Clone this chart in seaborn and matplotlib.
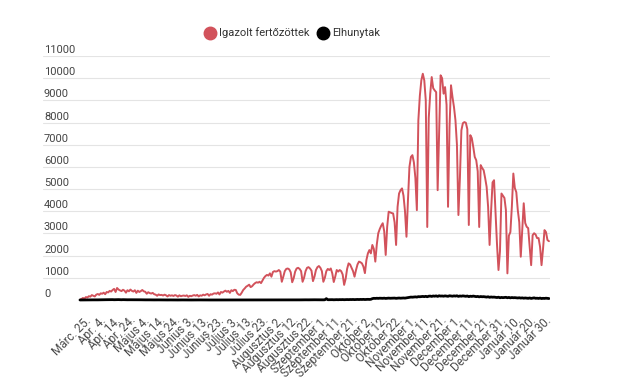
import pandas as pd
import seaborn as sns
import matplotlib.pyplot as plt
import matplotlib.transforms as mtransforms
from matplotlib.lines import Line2D

# daily values (rows of 7 days)
cases = [
    10, 40, 90, 60, 130, 110, 170,
    150, 220, 190, 160, 240, 270, 230,
    300, 280, 330, 260, 360, 340, 410,
    380, 450, 500, 360, 540, 470, 430,
    400, 460, 420, 330, 440, 390, 470,
    410, 380, 440, 320, 420, 360, 400,
    450, 390, 370, 280, 350, 310, 290,
    320, 260, 240, 190, 250, 220, 230,
    200, 240, 210, 160, 220, 190, 210,
    180, 220, 200, 150, 210, 170, 190,
    200, 180, 210, 140, 190, 170, 200,
    220, 190, 230, 160, 210, 190, 240,
    210, 250, 270, 190, 260, 240, 290,
    300, 280, 340, 250, 360, 330, 380,
    420, 370, 410, 320, 440, 400, 460,
    450, 300, 240, 230, 330, 450, 520,
    600, 640, 690, 580, 620, 700, 760,
    800, 780, 820, 760, 880, 1000, 1080,
    1130, 1100, 1200, 1050, 1260, 1300, 1280,
    1300, 1350, 1280, 820, 1050, 1300, 1400,
    1420, 1380, 1250, 800, 980, 1280, 1420,
    1450, 1400, 1300, 820, 1000, 1300, 1450,
    1480, 1420, 1320, 850, 1050, 1350, 1480,
    1530, 1450, 1300, 820, 1000, 1300, 1400,
    1350, 1420, 1200, 810, 1050, 1350, 1280,
    1350, 1300, 1150, 680, 950, 1400, 1650,
    1600, 1450, 1300, 1050, 1350, 1600, 1730,
    1700, 1650, 1500, 1210, 1800, 2100, 2250,
    2100, 2480, 2300, 1730, 2500, 3010, 3200,
    3350, 3460, 3100, 2030, 3300, 3980, 3950,
    3920, 3900, 3500, 2480, 4200, 4800, 4950,
    5030, 4700, 4000, 2850, 4500, 6000, 6450,
    6530, 6200, 5500, 4050, 8100, 9200, 9900,
    10200, 9900, 9000, 3290, 8200, 9300, 10050,
    9550, 9450, 9370, 4950, 7500, 10130, 10000,
    9300, 9600, 8800, 4200, 7800, 9680, 9150,
    8700, 8100, 7000, 3830, 5500, 7650, 7970,
    8020, 7990, 7700, 3380, 7430, 7300, 6900,
    6450, 6300, 5800, 3290, 6080, 5950, 5850,
    5500, 5100, 4200, 2480, 4000, 5300, 5400,
    3900, 2500, 1350, 2200, 4800, 4700, 4600,
    4050, 1200, 2900, 3060, 4200, 5700, 5050,
    4860, 4050, 3500, 1950, 3200, 4360, 3470,
    3300, 3240, 2400, 1570, 2920, 3010, 2950,
    2790, 2790, 2400, 1570, 2300, 3150, 3060,
    2700, 2650,
]

deaths = [
    0, 1, 1, 2, 1, 3, 2,
    4, 3, 5, 4, 6, 5, 7,
    8, 9, 11, 10, 12, 13, 14,
    12, 15, 11, 14, 13, 16, 12,
    10, 14, 11, 13, 9, 12, 10,
    8, 11, 9, 10, 7, 9, 8,
    6, 7, 5, 6, 4, 5, 3,
    4, 3, 5, 2, 4, 3, 2,
    3, 2, 4, 1, 3, 2, 1,
    2, 1, 3, 0, 2, 1, 2,
    1, 0, 2, 1, 1, 0, 1,
    0, 1, 1, 0, 2, 1, 0,
    1, 0, 1, 0, 0, 1, 0,
    0, 1, 0, 0, 1, 0, 0,
    0, 0, 1, 0, 0, 1, 0,
    0, 1, 0, 0, 1, 0, 1,
    0, 0, 1, 0, 1, 0, 0,
    1, 0, 0, 1, 0, 2, 1,
    0, 1, 2, 1, 0, 2, 1,
    2, 1, 3, 2, 1, 3, 2,
    4, 3, 2, 5, 3, 4, 2,
    5, 4, 6, 3, 5, 7, 4,
    6, 8, 5, 7, 9, 6, 8,
    7, 10, 8, 6, 9, 60, 11,
    12, 10, 14, 9, 13, 15, 11,
    16, 14, 18, 12, 17, 19, 15,
    20, 18, 22, 16, 21, 24, 19,
    25, 22, 27, 20, 26, 29, 24,
    30, 60, 75, 70, 78, 72, 80,
    76, 74, 82, 70, 79, 84, 77,
    80, 78, 85, 74, 82, 88, 80,
    86, 90, 84, 95, 110, 120, 130,
    125, 135, 140, 130, 150, 145, 155,
    160, 150, 165, 145, 170, 175, 160,
    180, 170, 185, 160, 190, 175, 180,
    170, 185, 175, 165, 190, 180, 170,
    185, 175, 190, 160, 180, 170, 185,
    175, 165, 180, 150, 170, 160, 175,
    165, 150, 160, 140, 155, 145, 150,
    140, 130, 145, 120, 135, 125, 130,
    120, 110, 125, 100, 115, 105, 110,
    120, 100, 115, 95, 110, 100, 105,
    95, 90, 100, 85, 95, 80, 90,
    85, 75, 90, 70, 80, 95, 75,
    80, 70, 85, 65, 75, 70, 80,
    70, 65,
]

tick_labels = ["Márc. 25.", "Apr. 4.", "Apr. 14.", "Apr. 24.", "Május 4.", "Május 14.",
               "Május 24.", "Június 3.", "Június 13.", "Június 23.", "Július 3.",
               "Július 13.", "Július 23.", "Augusztus 2.", "Augusztus 12.",
               "Augusztus 22.", "Szeptember 1.", "Szeptember 11.", "Szeptember 21.",
               "Október 2.", "Október 12.", "Október 22.", "November 1.",
               "November 11.", "November 21.", "December 1.", "December 11.",
               "December 21.", "December 31.", "Január 10.", "Január 20.", "Január 30."]
tick_pos = list(range(6, 317, 10))
y_ticks = list(range(0, 11001, 1000))

RED = "#d2525b"

df = pd.DataFrame({"day": range(len(cases)), "cases": cases, "deaths": deaths})

sns.set_style("white")
plt.rcParams["font.family"] = ["Roboto", "DejaVu Sans"]

W, H = 619, 385
fig = plt.figure(figsize=(W / 100, H / 100), dpi=100)
ax = fig.add_axes([43 / W, (H - 303.3) / H, (549.7 - 43) / W, (303.3 - 56) / H])

for v in y_ticks[1:]:
    ax.axhline(v, color="#e4e4e4", lw=0.8, zorder=0)

sns.lineplot(data=df, x="day", y="cases", color=RED, lw=1.4, ax=ax)
sns.lineplot(data=df, x="day", y="deaths", color="black", lw=2.0, ax=ax)

ax.set_xlim(-24.9, 316.5)
ax.set_ylim(-150, 11000)
for s in ax.spines.values():
    s.set_visible(False)
ax.set_xlabel("")
ax.set_ylabel("")
ax.set_yticks([])

ax.set_xticks(tick_pos)
ax.set_xticklabels(tick_labels, rotation=45, ha="right", va="center",
                   rotation_mode="anchor", fontsize=8.4, color="#4a4a4a")
ax.tick_params(axis="x", length=0, pad=11)

trans = mtransforms.offset_copy(ax.get_yaxis_transform(), fig=fig, x=1, y=3, units="dots")
for v in y_ticks:
    ax.text(0, v, str(v), transform=trans, ha="left", va="baseline",
            fontsize=8, color="#444444")

handles = [
    Line2D([], [], marker="o", ls="", color=RED, markersize=9, label="Igazolt fertőzöttek"),
    Line2D([], [], marker="o", ls="", color="black", markersize=9, label="Elhunytak"),
]
fig.legend(handles=handles, loc="center", bbox_to_anchor=(0.472, 1 - 33 / H), ncol=2,
           frameon=False, fontsize=8, handletextpad=0.3, columnspacing=0.7,
           handlelength=1.0, labelcolor="#333333")

fig.savefig("out.png", dpi=100, facecolor="white")
